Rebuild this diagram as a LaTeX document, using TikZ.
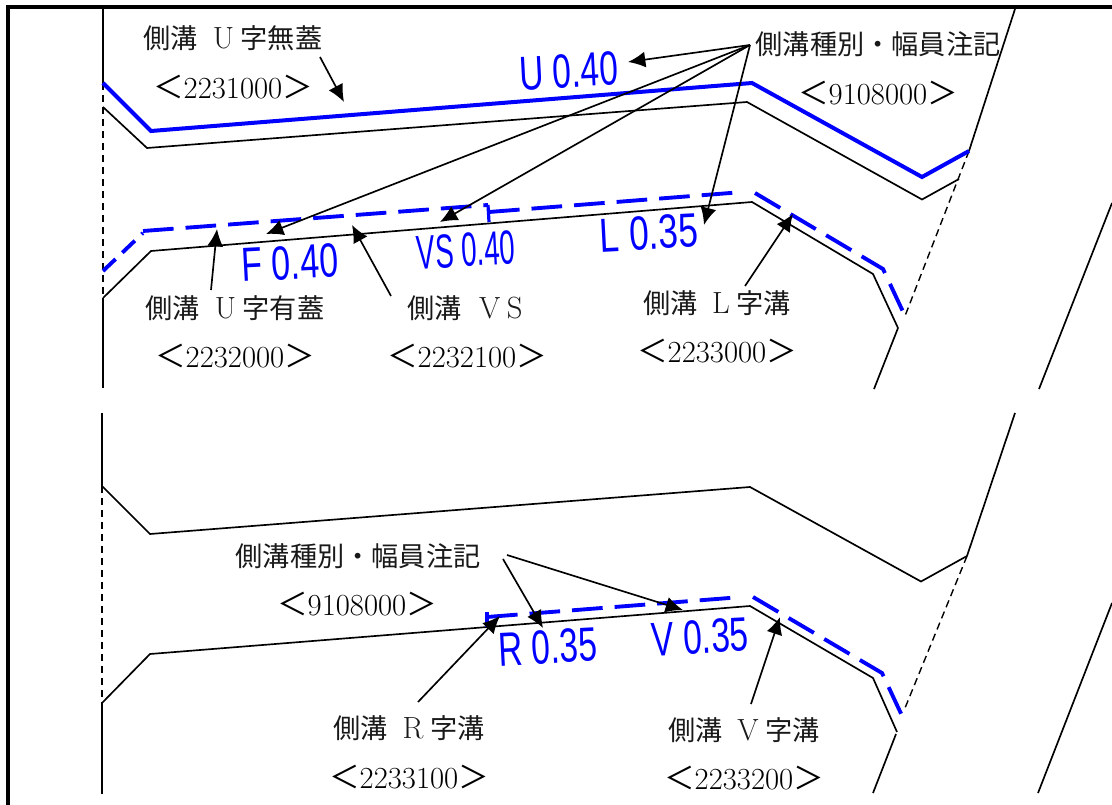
\documentclass[tikz,border=0pt]{standalone}
\usepackage{fontspec}
\usetikzlibrary{arrows.meta}
\newfontfamily\cjk{Noto Sans CJK JP}
\newfontfamily\bluesans{Liberation Sans}
\newcommand{\jp}[1]{{\cjk #1}}
\newcommand{\lat}[1]{{\rmfamily #1}}
\newcommand{\codetext}[1]{\jp{＜}#1\jp{＞}}
\newcommand{\bluetext}[2]{\scalebox{#1}[1.14]{#2}}
\tikzset{
  x=0.75pt,y=-0.75pt,
  framebar/.style={line width=2.6pt,black},
  edgeline/.style={line width=1.25pt,black,line join=miter},
  thindash/.style={line width=1.05pt,black,dash pattern=on 5.5pt off 3.5pt},
  bluesolid/.style={line width=3pt,blue,line join=miter},
  bluedash/.style={line width=2.9pt,blue,dash pattern=on 23pt off 9pt,line join=miter},
  leader/.style={line width=1.25pt,black,-{Latex[length=13pt,width=12pt]}},
  lbl/.style={inner sep=0pt,font=\fontsize{20.4pt}{22pt}\selectfont,text=black!90},
  codelbl/.style={inner sep=0pt,font=\fontsize{23pt}{26pt}\selectfont,text=black},
  bluelbl/.style={inner sep=0pt,text=blue,font=\bluesans\fontsize{31.5pt}{34pt}\selectfont},
}
\begin{document}
\begin{tikzpicture}
\useasboundingbox (0,0) rectangle (1112,805);
% frame
\draw[framebar] (8,805) -- (8,7) -- (1112,7);

% ---------- upper panel ----------
\draw[edgeline] (103,8) -- (103,83);
\draw[thindash] (103,83) -- (103,298);
\draw[edgeline] (103,298) -- (103,388);
\draw[edgeline] (103,107) -- (147,148) -- (747,102) -- (922,199.5) -- (959,179);
\draw[edgeline] (103,298) -- (151,251) -- (752,202) -- (873,274) -- (898,328);
\draw[edgeline] (1015,9) -- (969,151);
\draw[thindash] (969,151) -- (905,316);
\draw[edgeline] (898,328) -- (874,389);
\draw[edgeline] (1112,203) -- (1039,389);
\draw[bluesolid] (103,83) -- (151,131) -- (752,83) -- (922,177) -- (969,151);
\draw[bluedash,dash pattern=on 13pt off 7pt] (103,271) -- (143,233);
\draw[bluedash] (143,231) -- (488,205);
\draw[line width=2.4pt,blue] (488,205) -- (489,222);
\draw[bluedash] (489,212) -- (743,192);
\draw[bluedash,dash pattern=on 22pt off 9pt] (755,193) -- (883,269) -- (905,316);

\node[bluelbl,rotate=3] (tU) at (569,71) {\bluetext{.8}{U 0.40}};
\node[bluelbl,rotate=3] (tF) at (290,263) {\bluetext{.81}{F 0.40}};
\node[bluelbl,rotate=3] (tVS) at (466,250) {\bluetext{.66}{VS 0.40}};
\node[bluelbl,rotate=3] (tL) at (649,233) {\bluetext{.84}{L 0.35}};

\node[lbl] (a1) at (233,38) {\jp{側溝}\hspace{11pt}\lat{\fontsize{23pt}{26pt}\selectfont U}\hspace{5pt}\jp{字無蓋}};
\node[codelbl] (a2) at (233,87) {\codetext{2231000}};
\node[lbl] (b1) at (878,44) {\jp{側溝種別・幅員注記}};
\node[codelbl] (b2) at (878,93) {\codetext{9108000}};
\node[lbl] (c1) at (235,308) {\jp{側溝}\hspace{11pt}\lat{\fontsize{23pt}{26pt}\selectfont U}\hspace{5pt}\jp{字有蓋}};
\node[codelbl] (c2) at (235,356) {\codetext{2232000}};
\node[lbl] (d1) at (465,308) {\jp{側溝}\hspace{13pt}\lat{\fontsize{23pt}{26pt}\selectfont V\hspace{5pt}S}};
\node[codelbl] (d2) at (467,356) {\codetext{2232100}};
\node[lbl] (e1) at (717,303) {\jp{側溝}\hspace{11pt}\lat{\fontsize{23pt}{26pt}\selectfont L}\hspace{5pt}\jp{字溝}};
\node[codelbl] (e2) at (717,351) {\codetext{2233000}};

\coordinate (bs) at (750,45);
\coordinate (tipU) at (628,62);
\coordinate (tipF) at (266,234);
\coordinate (tipVS) at (440,222);
\coordinate (tipL) at (704,225);
\coordinate (as) at (320,57);
\coordinate (tipA) at (344,102);
\coordinate (cs) at (211,290);
\coordinate (tipC) at (217,229);
\coordinate (ds) at (391,296);
\coordinate (tipD) at (352,225);
\coordinate (es) at (745,286);
\coordinate (tipE) at (793,214);
\draw[leader] (bs) -- (tipU);
\draw[leader] (bs) -- (tipF);
\draw[leader] (bs) -- (tipVS);
\draw[leader] (bs) -- (tipL);
\draw[leader] (as) -- (tipA);
\draw[leader] (cs) -- (tipC);
\draw[leader] (ds) -- (tipD);
\draw[leader] (es) -- (tipE);

% ---------- lower panel ----------
\draw[edgeline] (102,413) -- (102,486);
\draw[thindash] (102,486) -- (102,703);
\draw[edgeline] (102,703) -- (102,794);
\draw[edgeline] (102,486) -- (150,534) -- (750,487) -- (921,581.5) -- (967,556);
\draw[edgeline] (102,703) -- (150,654) -- (750,606) -- (873,678) -- (897,732);
\draw[edgeline] (1015,413) -- (967,556);
\draw[thindash] (967,556) -- (905,708);
\draw[edgeline] (896,734) -- (873,793);
\draw[edgeline] (1112,603) -- (1038,793);
\draw[line width=2.4pt,blue] (487,612) -- (487,627);
\draw[bluedash] (487,617) -- (742,597);
\draw[bluedash,dash pattern=on 22pt off 9pt] (753,597) -- (882,673) -- (904,720);

\node[bluelbl,rotate=3] (tR) at (548,647) {\bluetext{.8}{R 0.35}};
\node[bluelbl,rotate=3] (tV) at (700,637) {\bluetext{.8}{V 0.35}};

\node[lbl] (f1) at (358,556) {\jp{側溝種別・幅員注記}};
\node[codelbl] (f2) at (357,604) {\codetext{9108000}};
\node[lbl] (g1) at (409,728) {\jp{側溝}\hspace{11pt}\lat{\fontsize{23pt}{26pt}\selectfont R}\hspace{5pt}\jp{字溝}};
\node[codelbl] (g2) at (409,777) {\codetext{2233100}};
\node[lbl] (h1) at (744,730) {\jp{側溝}\hspace{11pt}\lat{\fontsize{23pt}{26pt}\selectfont V}\hspace{5pt}\jp{字溝}};
\node[codelbl] (h2) at (744,778) {\codetext{2233200}};

\coordinate (fsa) at (507,555);
\coordinate (fsb) at (503,559);
\coordinate (tipV) at (683,610);
\coordinate (tipR) at (543,628);
\coordinate (gs) at (418,702);
\coordinate (tipG) at (500,616);
\coordinate (hs) at (751,704);
\coordinate (tipH) at (780,617);
\draw[leader] (fsa) -- (tipV);
\draw[leader] (fsb) -- (tipR);
\draw[leader] (gs) -- (tipG);
\draw[leader] (hs) -- (tipH);
\end{tikzpicture}
\end{document}
